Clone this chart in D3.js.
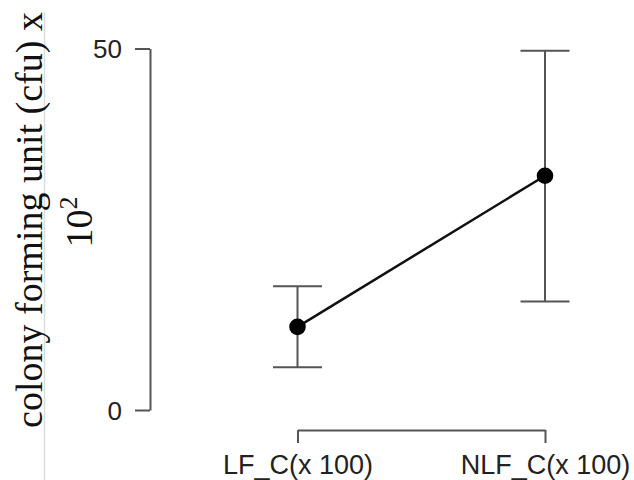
<!DOCTYPE html>
<html>
<head>
<meta charset="utf-8">
<script src="https://cdn.jsdelivr.net/npm/d3@7"></script>
<style>
  body { margin: 0; background: #fff; }
  .axis text { font-family: Arial, "Liberation Sans", sans-serif; fill: #222; }
  .axis path, .axis line { stroke: #555; stroke-width: 2; }
</style>
</head>
<body>
<div id="chart"></div>
<script>
(function () {

var categories = ["LF_C(x 100)", "NLF_C(x 100)"];
var means = [11.5, 32.4];
var upper = [17.1, 49.7];
var lower = [5.9, 15.0];
var yTicks = [0, 50];

var width = 634, height = 480;

var svg = d3.select("#chart").append("svg")
    .attr("width", width)
    .attr("height", height);

var x = d3.scalePoint()
    .domain(categories)
    .range([297.5, 545]);

var y = d3.scaleLinear()
    .domain([0, 50])
    .range([410, 48.5]);

// faint border line left in the original image
svg.append("line")
    .attr("x1", 44.5).attr("x2", 44.5)
    .attr("y1", 12).attr("y2", height)
    .attr("stroke", "#dcdcdc")
    .attr("stroke-width", 1.5);

var yAxis = d3.axisLeft(y)
    .tickValues(yTicks)
    .tickSize(15)
    .tickSizeOuter(0)
    .tickPadding(13);

var gy = svg.append("g")
    .attr("class", "axis")
    .attr("transform", "translate(150,0)")
    .call(yAxis);
gy.selectAll("text").style("font-size", "26px").attr("dy", "0.35em");

var xAxis = d3.axisBottom(x)
    .tickSize(13)
    .tickSizeOuter(0)
    .tickPadding(12);

var gx = svg.append("g")
    .attr("class", "axis")
    .attr("transform", "translate(0,430)")
    .call(xAxis);
gx.selectAll("text").style("font-size", "27px").attr("dy", "0.71em");

var data = categories.map(function (c, i) {
  return {key: c, mean: means[i], hi: upper[i], lo: lower[i]};
});

var capW = 24.5;

var bars = svg.append("g")
    .attr("stroke", "#555")
    .attr("stroke-width", 2);

bars.selectAll(".stem").data(data).enter().append("line")
    .attr("x1", function (d) { return x(d.key); })
    .attr("x2", function (d) { return x(d.key); })
    .attr("y1", function (d) { return y(d.lo); })
    .attr("y2", function (d) { return y(d.hi); });

bars.selectAll(".capHi").data(data).enter().append("line")
    .attr("x1", function (d) { return x(d.key) - capW; })
    .attr("x2", function (d) { return x(d.key) + capW; })
    .attr("y1", function (d) { return y(d.hi); })
    .attr("y2", function (d) { return y(d.hi); });

bars.selectAll(".capLo").data(data).enter().append("line")
    .attr("x1", function (d) { return x(d.key) - capW; })
    .attr("x2", function (d) { return x(d.key) + capW; })
    .attr("y1", function (d) { return y(d.lo); })
    .attr("y2", function (d) { return y(d.lo); });

var line = d3.line()
    .x(function (d) { return x(d.key); })
    .y(function (d) { return y(d.mean); });

svg.append("path")
    .datum(data)
    .attr("d", line)
    .attr("fill", "none")
    .attr("stroke", "#111")
    .attr("stroke-width", 2.5);

svg.selectAll(".dot").data(data).enter().append("circle")
    .attr("cx", function (d) { return x(d.key); })
    .attr("cy", function (d) { return y(d.mean); })
    .attr("r", 8.3)
    .attr("fill", "#000");

// y label, two lines, serif
var lab = svg.append("g")
    .attr("font-family", "'Liberation Serif', 'Times New Roman', serif")
    .attr("font-size", "38px")
    .attr("fill", "#111");

lab.append("text")
    .attr("transform", "translate(42,220) rotate(-90)")
    .attr("text-anchor", "middle")
    .text("colony forming unit (cfu) x");

var t2 = lab.append("text")
    .attr("transform", "translate(92,222) rotate(-90)")
    .attr("text-anchor", "middle");
t2.append("tspan").text("10");
t2.append("tspan")
    .attr("font-size", "26px")
    .attr("dy", "-15")
    .text("2");

})();
</script>
</body>
</html>
